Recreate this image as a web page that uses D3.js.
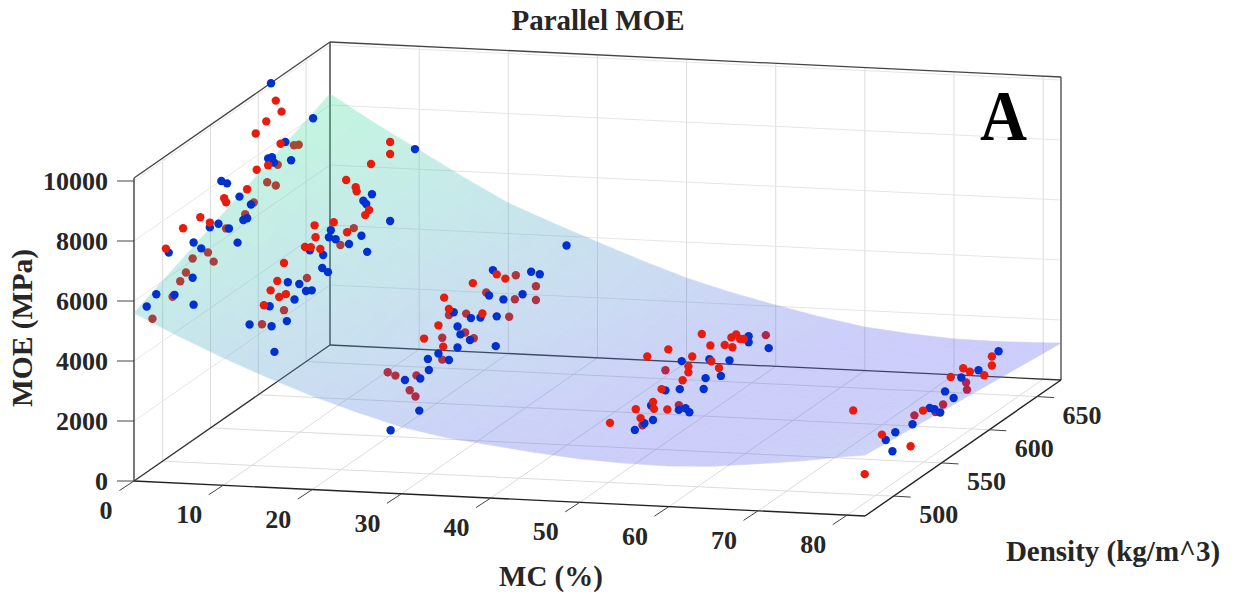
<!DOCTYPE html>
<html>
<head>
<meta charset="utf-8">
<script src="https://cdn.jsdelivr.net/npm/d3@7"></script>
<style>
  html, body { margin: 0; background: #fff; }
  text { font-family: "Liberation Serif", serif; font-weight: bold; fill: #262626; }
</style>
</head>
<body>
<script>
const width = 1234, height = 597;

// axis ticks
const mcTicks = [0, 10, 20, 30, 40, 50, 60, 70, 80];
const densityTicks = [500, 550, 600, 650];
const moeTicks = [0, 2000, 4000, 6000, 8000, 10000];

// measurement groups, one MC level each. the arrays below hold one list per group
const groupMC = [1, 12, 29, 52, 78];

const blueDensity = [
  [604,619,601,605,607,625,648,552,558,571,583,579,575,540,549,560,569,523,497,531,522,484,503,474,523],
  [505,479,502,518,500,526,538,544,519,531,555,561,556,542,562,569,583,564,596,602,626,598,601,607,652],
  [468,498,483,499,508,507,529,518,538,578,551,541,538,534,552,562,579,571,586,606,575,615,624,652],
  [509,519,528,526,555,562,566,541,556,581,583,599,558,587,608,628,628,649],
  [536,529,539,557,575,580,586,600,591,608,626,647]
];
const blueMOE = [
  [10310,8020,7870,7820,7600,7280,8170,8200,7990,7260,6730,6360,6390,6920,6840,6440,5770,6790,7030,6420,5640,5930,5490,5740,4720],
  [3700,5190,4620,4440,5330,4980,5000,4890,5710,5390,5390,5120,5800,6270,6260,6040,5570,6450,5560,4890,5390,6680,6510,6700,7210],
  [2150,2140,3490,3190,3270,3660,3140,3600,3360,2520,3320,3730,4060,4620,4030,3830,3490,4360,3900,3630,5120,4180,3900,4240],
  [1580,1580,1490,2020,1230,1130,910,2190,1900,1350,1670,1390,2790,2210,1710,2070,1870,1210],
  [640,1170,1210,1080,1220,1070,830,1000,1420,1510,1350,1520]
];

const redDensity = [
  [609,615,599,588,614,601,589,579,555,557,530,540,512,494],
  [494,510,517,501,508,515,537,543,553,548,547,567,581,600,604,580,590,591,606,626,626],
  [523,503,518,529,564,524,554,579,588],
  [483,515,510,528,529,543,537,559,597,565,565,522,544,569,589,579,588,603,611,610,615,619,623],
  [495,507,555,525,568,597,610,617,632,640,640]
];
const redMOE = [
  [9620,9120,9150,8990,8070,7640,7760,7330,7560,7380,7480,7080,7510,7230],
  [5500,5420,5360,5840,6000,6440,6490,6350,6070,6570,6990,6650,6010,6160,6240,7770,7310,7150,7730,8020,7620],
  [3720,4430,4540,4840,3920,5330,5150,4890,4550],
  [2390,1840,2250,2090,1840,1510,2320,2130,1700,2260,2460,3740,3490,2700,2100,3230,2650,2330,2080,2430,2420,2180,2090],
  [2910,520,390,1440,1290,1770,1770,1500,1050,1200,1500]
];

// red samples that sit under the fitted surface
const underDensity = [
  [628,633,611,600,609,586,577,557,538,522,544,515,509,501,480],
  [492,515,539,574,588],
  [494,488,473,465,495,522,522,546,555,529,547,592,568,598,620,620,599],
  [517,555,541,646],
  [559,581,589,614,613]
];
const underMOE = [
  [7710,7620,7440,7100,6790,6730,6540,6510,6130,6280,5690,5970,5810,5470,5200],
  [4910,4870,5410,5740,5990],
  [2700,3040,3860,4150,3380,3310,4040,3680,3290,4640,4290,3190,4530,3640,3130,3590,4420],
  [1560,1390,2860,1710],
  [1330,950,1030,970,1230]
];

// fitted surface, read along its two edges
const surfaceMC = [0,5,10,15,20,25,30,35,40,45,50,55,60,65,70,75,80,82];
const surfaceFront = [5600,4900,4250,3660,3120,2650,2230,1950,1770,1590,1450,1380,1350,1420,1570,1740,1960,2030];
const surfaceBack = [8370,7470,6640,5800,5020,4420,3860,3310,2800,2390,2040,1720,1450,1300,1200,1180,1210,1230];

const mcMax = 82, densityMin = 470, densityMax = 675, moeMax = 10100;

const originX = 134, originY = 481;
const mcX = d3.scaleLinear().domain([0, mcMax]).range([0, 731]);
const mcY = d3.scaleLinear().domain([0, mcMax]).range([0, 35]);
const densityX = d3.scaleLinear().domain([densityMin, densityMax]).range([0, 196]);
const densityY = d3.scaleLinear().domain([densityMin, densityMax]).range([0, -136]);
const moeY = d3.scaleLinear().domain([0, moeMax]).range([0, -303]);

const px = (mc, dens) => originX + mcX(mc) + densityX(dens);
const py = (mc, dens, moe) => originY + mcY(mc) + densityY(dens) + moeY(moe);

const surfaceColor = d3.scaleLinear()
  .domain([8400, 5500, 3000, 1200])
  .range(["rgb(60,228,150)", "rgb(70,185,185)", "rgb(85,140,215)", "rgb(90,90,240)"]);

const svg = d3.select("body").append("svg")
  .attr("width", width)
  .attr("height", height)
  .attr("viewBox", [0, 0, width, height])
  .style("display", "block");

const seg = (g, a, b, color, w) => g.append("line")
  .attr("x1", px(a[0], a[1])).attr("y1", py(a[0], a[1], a[2]))
  .attr("x2", px(b[0], b[1])).attr("y2", py(b[0], b[1], b[2]))
  .attr("stroke", color).attr("stroke-width", w);

//draw grid on the three walls
const grid = svg.append("g");
const gridColor = "#dcdcdc";
mcTicks.forEach(t => {
  seg(grid, [t, densityMin, 0], [t, densityMax, 0], gridColor, 1);
  seg(grid, [t, densityMax, 0], [t, densityMax, moeMax], gridColor, 1);
});
densityTicks.forEach(t => {
  seg(grid, [0, t, 0], [mcMax, t, 0], gridColor, 1);
  seg(grid, [0, t, 0], [0, t, moeMax], gridColor, 1);
});
moeTicks.slice(1).forEach(t => {
  seg(grid, [0, densityMin, t], [0, densityMax, t], "#e6e6e6", 1);
  seg(grid, [0, densityMax, t], [mcMax, densityMax, t], "#e6e6e6", 1);
});

//draw box
const box = svg.append("g");
const c = "#333";
seg(box, [0, densityMax, 0], [0, densityMax, moeMax], c, 1.3);
seg(box, [0, densityMax, 0], [mcMax, densityMax, 0], c, 1.3);
seg(box, [0, densityMin, 0], [0, densityMax, 0], c, 1.3);
seg(box, [0, densityMin, moeMax], [0, densityMax, moeMax], "#444", 1.3);
seg(box, [0, densityMax, moeMax], [mcMax, densityMax, moeMax], "#444", 1.3);
seg(box, [mcMax, densityMax, 0], [mcMax, densityMax, moeMax], "#444", 1.3);
seg(box, [0, densityMin, 0], [0, densityMin, moeMax], "#777", 2);
seg(box, [0, densityMin, 0], [mcMax, densityMin, 0], "#222", 1.4);
seg(box, [mcMax, densityMin, 0], [mcMax, densityMax, 0], "#222", 1.4);

const toPoints = (densities, moes, color) => groupMC.flatMap((mc, g) =>
  densities[g].map((dens, i) => ({ mc, dens, moe: moes[g][i], color })));

const drawPoints = (data) => svg.append("g")
  .selectAll("circle")
  .data(data)
  .join("circle")
    .attr("cx", d => px(d.mc, d.dens))
    .attr("cy", d => py(d.mc, d.dens, d.moe))
    .attr("r", 4.2)
    .attr("fill", d => d.color);

const red = "#e81c0c", redUnder = "#d80a06", blue = "#0030d0";

//points under the surface first
drawPoints(toPoints(underDensity, underMOE, redUnder));

//draw surface, group opacity keeps the quads from showing seams
const mesh = [];
const densitySteps = 12, mcSteps = 3;
surfaceMC.slice(0, -1).forEach((m0, k) => {
  const m1 = surfaceMC[k + 1];
  d3.range(mcSteps).forEach(a => {
    const t0 = a / mcSteps, t1 = (a + 1) / mcSteps;
    const ma = m0 + (m1 - m0) * t0, mb = m0 + (m1 - m0) * t1;
    const fa = surfaceFront[k] + (surfaceFront[k + 1] - surfaceFront[k]) * t0;
    const fb = surfaceFront[k] + (surfaceFront[k + 1] - surfaceFront[k]) * t1;
    const ba = surfaceBack[k] + (surfaceBack[k + 1] - surfaceBack[k]) * t0;
    const bb = surfaceBack[k] + (surfaceBack[k + 1] - surfaceBack[k]) * t1;
    d3.range(densitySteps).forEach(j => {
      const s0 = j / densitySteps, s1 = (j + 1) / densitySteps;
      const d0 = densityMin + (densityMax - densityMin) * s0;
      const d1 = densityMin + (densityMax - densityMin) * s1;
      const z = (f, b, s) => f + (b - f) * s;
      mesh.push({
        pts: [
          [px(ma, d0), py(ma, d0, z(fa, ba, s0))],
          [px(mb, d0), py(mb, d0, z(fb, bb, s0))],
          [px(mb, d1), py(mb, d1, z(fb, bb, s1))],
          [px(ma, d1), py(ma, d1, z(fa, ba, s1))]
        ],
        moe: (z(fa, ba, s0) + z(fb, bb, s0) + z(fa, ba, s1) + z(fb, bb, s1)) / 4
      });
    });
  });
});

svg.append("g")
  .attr("opacity", 0.3)
  .selectAll("polygon")
  .data(mesh)
  .join("polygon")
    .attr("points", d => d.pts.join(" "))
    .attr("fill", d => surfaceColor(d.moe))
    .attr("stroke", d => surfaceColor(d.moe))
    .attr("stroke-width", 0.6);

drawPoints(toPoints(blueDensity, blueMOE, blue));
drawPoints(toPoints(redDensity, redMOE, red));

//ticks and labels
const axes = svg.append("g");
const tickColor = "#444";
moeTicks.forEach(t => {
  const y = py(0, densityMin, t);
  axes.append("line").attr("x1", 117).attr("x2", originX).attr("y1", y).attr("y2", y)
    .attr("stroke", tickColor);
  axes.append("text").attr("x", 108).attr("y", y + 8.5)
    .attr("text-anchor", "end").attr("font-size", 26).text(t);
});
mcTicks.forEach((t, i) => {
  const x = px(t, densityMin), y = py(t, densityMin, 0);
  axes.append("line").attr("x1", x).attr("y1", y).attr("x2", x - 14.5).attr("y2", y + 9.5)
    .attr("stroke", tickColor);
  axes.append("text").attr("x", x - (i === 0 ? 28 : 34)).attr("y", y + 38)
    .attr("text-anchor", "middle").attr("font-size", 26).text(t);
});
densityTicks.forEach(t => {
  const x = px(mcMax, t), y = py(mcMax, t, 0);
  axes.append("line").attr("x1", x).attr("y1", y).attr("x2", x + 17).attr("y2", y + 1)
    .attr("stroke", tickColor);
  axes.append("text").attr("x", x + 45).attr("y", y + 27)
    .attr("text-anchor", "middle").attr("font-size", 26).text(t);
});

svg.append("text").attr("x", 598).attr("y", 30)
  .attr("text-anchor", "middle").attr("font-size", 29).text("Parallel MOE");
svg.append("text").attr("x", 551).attr("y", 586)
  .attr("text-anchor", "middle").attr("font-size", 29).text("MC (%)");
svg.append("text").attr("x", 1113).attr("y", 561)
  .attr("text-anchor", "middle").attr("font-size", 29).text("Density (kg/m^3)");
svg.append("text").attr("transform", "translate(32,328) rotate(-90)")
  .attr("text-anchor", "middle").attr("font-size", 29.5).text("MOE (MPa)");
svg.append("text").attr("x", 980).attr("y", 140)
  .attr("textLength", 47).attr("lengthAdjust", "spacingAndGlyphs")
  .attr("font-size", 71).style("fill", "#000").text("A");
</script>
</body>
</html>
